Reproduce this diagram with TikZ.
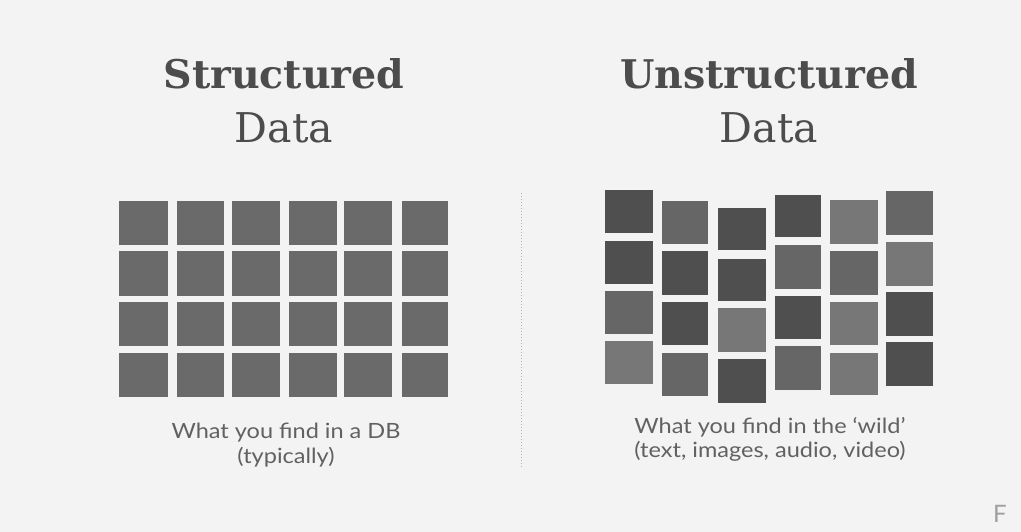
\documentclass[tikz,border=0pt]{standalone}
\usepackage{fontspec}
\newfontfamily\titlefont{DejaVu Serif}
\newfontfamily\notefont[FakeStretch=1.12]{Lato}
\newfontfamily\logofont{Lato}
\newlength{\du}
\setlength{\du}{1pt}

\begin{document}
\begin{tikzpicture}
\pgftransformxscale{1.000000}
\pgftransformyscale{-1.000000}
\definecolor{bgcolor}{rgb}{0.953, 0.953, 0.953}
\definecolor{gridcolor}{rgb}{0.415, 0.415, 0.415}
\definecolor{darkcolor}{rgb}{0.310, 0.310, 0.310}
\definecolor{midcolor}{rgb}{0.400, 0.400, 0.400}
\definecolor{lightcolor}{rgb}{0.465, 0.465, 0.465}
\definecolor{textcolor}{rgb}{0.300, 0.300, 0.300}
\definecolor{notecolor}{rgb}{0.380, 0.380, 0.380}
\tikzset{
  heading/.style={anchor=base, inner sep=0pt, text=textcolor, font=\titlefont\fontsize{41}{44}\selectfont},
  boldheading/.style={heading, font=\titlefont\bfseries\fontsize{39.5}{42}\selectfont},
  note/.style={anchor=base, inner sep=0pt, text=notecolor, font=\notefont\fontsize{21}{24}\selectfont},
}
\useasboundingbox (0\du,0\du) rectangle (1021\du,532\du);
\fill[bgcolor] (0\du,0\du) rectangle (1021\du,532\du);
% headings
\node[boldheading] (struct) at (284\du,89\du){Structured};
\node[heading] (structdata) at (284\du,143\du){Data};
\node[boldheading] (unstruct) at (769\du,89\du){Unstructured};
\node[heading] (unstructdata) at (769\du,143\du){Data};
% structured grid, row 1
\fill[gridcolor] (119\du,201\du) rectangle (168\du,245\du);
\fill[gridcolor] (177\du,201\du) rectangle (224\du,245\du);
\fill[gridcolor] (232\du,201\du) rectangle (280\du,245\du);
\fill[gridcolor] (289\du,201\du) rectangle (337\du,245\du);
\fill[gridcolor] (344\du,201\du) rectangle (392\du,245\du);
\fill[gridcolor] (402\du,201\du) rectangle (448\du,245\du);
% row 2
\fill[gridcolor] (119\du,251\du) rectangle (168\du,296\du);
\fill[gridcolor] (177\du,251\du) rectangle (224\du,296\du);
\fill[gridcolor] (232\du,251\du) rectangle (280\du,296\du);
\fill[gridcolor] (289\du,251\du) rectangle (337\du,296\du);
\fill[gridcolor] (344\du,251\du) rectangle (392\du,296\du);
\fill[gridcolor] (402\du,251\du) rectangle (448\du,296\du);
% row 3
\fill[gridcolor] (119\du,302\du) rectangle (168\du,346\du);
\fill[gridcolor] (177\du,302\du) rectangle (224\du,346\du);
\fill[gridcolor] (232\du,302\du) rectangle (280\du,346\du);
\fill[gridcolor] (289\du,302\du) rectangle (337\du,346\du);
\fill[gridcolor] (344\du,302\du) rectangle (392\du,346\du);
\fill[gridcolor] (402\du,302\du) rectangle (448\du,346\du);
% row 4
\fill[gridcolor] (119\du,353\du) rectangle (168\du,397\du);
\fill[gridcolor] (177\du,353\du) rectangle (224\du,397\du);
\fill[gridcolor] (232\du,353\du) rectangle (280\du,397\du);
\fill[gridcolor] (289\du,353\du) rectangle (337\du,397\du);
\fill[gridcolor] (344\du,353\du) rectangle (392\du,397\du);
\fill[gridcolor] (402\du,353\du) rectangle (448\du,397\du);
% unstructured columns
\fill[darkcolor] (605\du,190\du) rectangle (653\du,233\du);
\fill[darkcolor] (605\du,241\du) rectangle (653\du,284\du);
\fill[midcolor] (605\du,291\du) rectangle (653\du,334\du);
\fill[lightcolor] (605\du,341\du) rectangle (653\du,384\du);
\fill[midcolor] (662\du,201\du) rectangle (708\du,244\du);
\fill[darkcolor] (662\du,251\du) rectangle (708\du,295\du);
\fill[darkcolor] (662\du,302\du) rectangle (708\du,345\du);
\fill[midcolor] (662\du,353\du) rectangle (708\du,396\du);
\fill[darkcolor] (718\du,208\du) rectangle (766\du,250\du);
\fill[darkcolor] (718\du,259\du) rectangle (766\du,301\du);
\fill[lightcolor] (718\du,308\du) rectangle (766\du,352\du);
\fill[darkcolor] (718\du,359\du) rectangle (766\du,403\du);
\fill[darkcolor] (775\du,195\du) rectangle (821\du,237\du);
\fill[midcolor] (775\du,245\du) rectangle (821\du,289\du);
\fill[darkcolor] (775\du,296\du) rectangle (821\du,339\du);
\fill[midcolor] (775\du,346\du) rectangle (821\du,390\du);
\fill[lightcolor] (830\du,200\du) rectangle (878\du,244\du);
\fill[midcolor] (830\du,251\du) rectangle (878\du,295\du);
\fill[lightcolor] (830\du,302\du) rectangle (878\du,345\du);
\fill[lightcolor] (830\du,353\du) rectangle (878\du,395\du);
\fill[midcolor] (886\du,191\du) rectangle (933\du,235\du);
\fill[lightcolor] (886\du,242\du) rectangle (933\du,286\du);
\fill[darkcolor] (886\du,292\du) rectangle (933\du,336\du);
\fill[darkcolor] (886\du,342\du) rectangle (933\du,386\du);
% divider
\coordinate (divtop) at (521\du,193\du);
\coordinate (divbot) at (521\du,467\du);
\draw[gray!60, line width=1\du, dash pattern=on 1\du off 2\du] (divtop)--(divbot);
% notes
\node[note] (dbnote) at (286\du,438\du){What you find in a DB};
\node[note] (dbnote2) at (286\du,463\du){(typically)};
\node[note] (wildnote) at (770\du,433\du){What you find in the ‘wild’};
\node[note] (wildnote2) at (770\du,457\du){(text, images, audio, video)};
% logo corner
\node[anchor=base west, inner sep=0pt, text=gray!75, font=\logofont\fontsize{24}{26}\selectfont] (logo) at (993\du,522\du){F};
\end{tikzpicture}
\end{document}
